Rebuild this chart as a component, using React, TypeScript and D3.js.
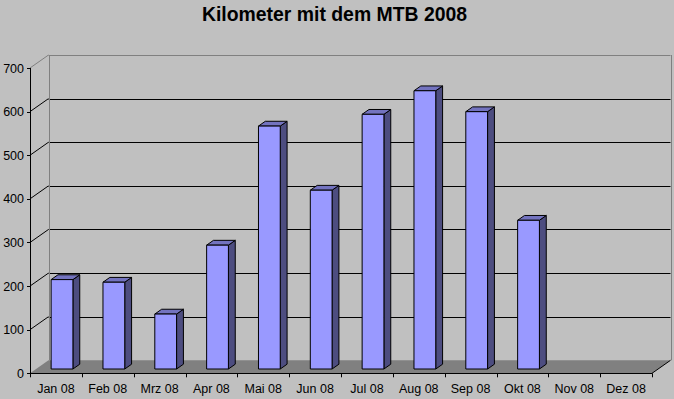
import React from "react";
import * as d3 from "d3";

const months = ["Jan 08", "Feb 08", "Mrz 08", "Apr 08", "Mai 08", "Jun 08", "Jul 08", "Aug 08", "Sep 08", "Okt 08", "Nov 08", "Dez 08"];
const kilometers: (number | null)[] = [205, 199, 126, 284, 557, 410, 584, 638, 590, 341, null, null];
const yTicks = [0, 100, 200, 300, 400, 500, 600, 700];
const title = "Kilometer mit dem MTB 2008";

const W = 674;
const H = 399;
const DX = 18.5;
const DY = 13;
const F1 = 0.33;
const F2 = 0.7;

export default function App() {
  const x = d3.scaleBand<string>().domain(months).range([30, 652]).padding(0);
  const y = d3.scaleLinear().domain([0, 700]).range([373.3, 68]);
  const font = "'Liberation Sans', Arial, sans-serif";
  const bw = x.bandwidth() * 0.42;
  const pt = (px: number, py: number, f: number) => `${px + f * DX},${py - f * DY}`;
  const x0 = x.range()[0];
  const x1 = x.range()[1];
  const y0 = y(0);
  const yTop = y(700);

  return (
    <svg width={W} height={H} style={{ position: "absolute", left: 0, top: 0, background: "#C0C0C0" }}>
      <rect x={0} y={0} width={W} height={H} fill="#C0C0C0" />
      <text x={334.5} y={20.5} textAnchor="middle" fontFamily={font} fontWeight="bold" fontSize={19.4} fill="#000">
        {title}
      </text>
      {/* floor */}
      <polygon points={[pt(x0, y0, 0), pt(x1, y0, 0), pt(x1, y0, 1), pt(x0, y0, 1)].join(" ")} fill="#808080" />
      <line x1={x1} y1={y0} x2={x1 + DX} y2={y0 - DY} stroke="#000" strokeWidth={1} />
      {/* gridlines */}
      {yTicks.filter((t) => t > 0).map((t) => {
        const c = t === 700 ? "#808080" : "#000";
        return (
          <g key={t}>
            <line x1={x0} y1={y(t)} x2={x0 + DX} y2={y(t) - DY} stroke={c} strokeWidth={1} />
            <line x1={x0 + DX} y1={Math.round(y(t) - DY) + 0.5} x2={x1 + DX} y2={Math.round(y(t) - DY) + 0.5} stroke={c} strokeWidth={1} />
          </g>
        );
      })}
      {/* back wall edges */}
      <line x1={Math.round(x0 + DX) + 0.5} y1={yTop - DY} x2={Math.round(x0 + DX) + 0.5} y2={y0 - DY} stroke="#808080" strokeWidth={1} />
      <line x1={Math.round(x1 + DX) + 0.5} y1={yTop - DY} x2={Math.round(x1 + DX) + 0.5} y2={y0 - DY} stroke="#808080" strokeWidth={1} />
      {/* bars */}
      {months.map((m, i) => {
        const v = kilometers[i];
        if (v == null) return null;
        const bx = (x(m) as number) + (x.bandwidth() - bw) / 2;
        const by = y(v);
        const bx2 = bx + bw;
        const front = [pt(bx, by, F1), pt(bx2, by, F1), pt(bx2, y0, F1), pt(bx, y0, F1)].join(" ");
        const side = [pt(bx2, by, F1), pt(bx2, by, F2), pt(bx2, y0, F2), pt(bx2, y0, F1)].join(" ");
        const top = [pt(bx, by, F1), pt(bx, by, F2), pt(bx2, by, F2), pt(bx2, by, F1)].join(" ");
        return (
          <g key={m} stroke="#000" strokeWidth={1} strokeLinejoin="miter">
            <polygon points={side} fill="#4D4D80" />
            <polygon points={top} fill="#7373BF" />
            <polygon points={front} fill="#9999FF" />
          </g>
        );
      })}
      {/* y axis */}
      <line x1={x0 + 0.5} y1={yTop} x2={x0 + 0.5} y2={y0} stroke="#000" strokeWidth={1} />
      {yTicks.map((t) => (
        <g key={t}>
          <line x1={x0 - 3} y1={Math.round(y(t)) + 0.5} x2={x0} y2={Math.round(y(t)) + 0.5} stroke="#000" strokeWidth={1} />
          <text x={24} y={y(t) + 4.5} textAnchor="end" fontFamily={font} fontSize={12.5} fill="#000">
            {t}
          </text>
        </g>
      ))}
      {/* x axis */}
      <line x1={x0} y1={Math.round(y0) + 0.5} x2={x1} y2={Math.round(y0) + 0.5} stroke="#000" strokeWidth={1} />
      {[...months.map((m) => x(m) as number), x1].map((tx, i) => (
        <line key={i} x1={Math.round(tx) + 0.5} y1={y0} x2={Math.round(tx) + 0.5} y2={y0 + 4} stroke="#000" strokeWidth={1} />
      ))}
      {months.map((m) => (
        <text key={m} x={(x(m) as number) + x.bandwidth() / 2} y={392.5} textAnchor="middle" fontFamily={font} fontSize={12.5} fill="#000">
          {m}
        </text>
      ))}
    </svg>
  );
}
